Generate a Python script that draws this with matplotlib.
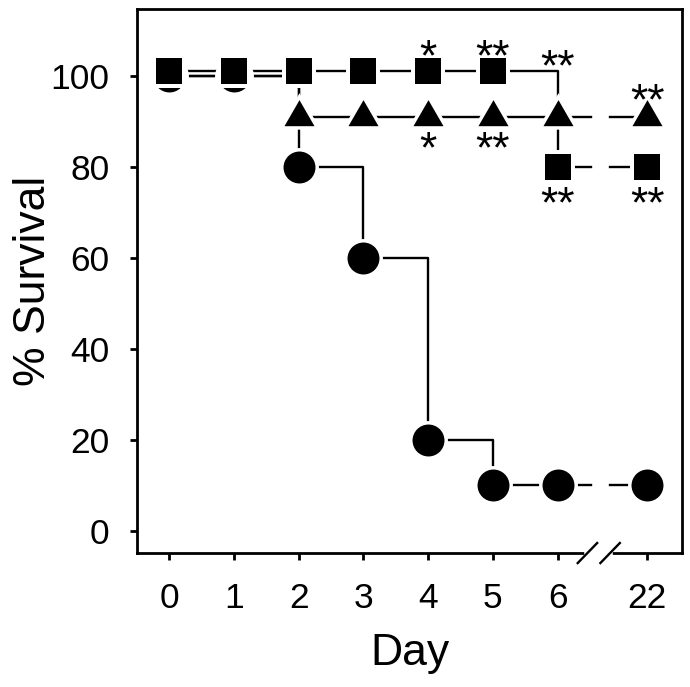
import numpy as np
from matplotlib import pyplot as plt
from matplotlib import transforms as mtransforms

plt.rcParams['font.family'] = ['Liberation Sans', 'DejaVu Sans']

# data
days = [0, 1, 2, 3, 4, 5, 6, 22]
day_pos = [0, 1, 2, 3, 4, 5, 6, 7.38]   # 22 sits after the axis break
circle_surv = [100, 100, 80, 60, 20, 10, 10, 10]
triangle_surv = [100, 100, 91, 91, 91, 91, 91, 91]
square_surv = [101, 101, 101, 101, 101, 101, 80, 80]

# significance marks: (day position, survival level of the mark centre, text)
star_x = [4, 5, 6, 7.38, 4, 5, 6, 7.38]
star_y = [106.8, 106.8, 104.6, 97.1, 86.4, 86.4, 74.3, 74.3]
star_txt = ['*', '**', '**', '**', '*', '**', '**', '**']

fig = plt.figure(figsize=(6.9, 6.87), dpi=100)
ax = fig.add_axes([0.1986, 0.195, 0.7898, 0.792])

# triangle marker centred on its centroid
tri = [(0, 17.33), (-15, -8.67), (15, -8.67)]

series = [
    (triangle_surv, tri, 25.0, 35.0),
    (circle_surv, 'o', 23.0, 28.0),
    (square_surv, 's', 19.2, 24.2),
]

lw = 1.7
for surv, m, ms, halo in series:
    # step line up to day 6
    ax.plot(day_pos[:7], surv[:7], drawstyle='steps-post', color='black', lw=lw, zorder=2)
    # broken piece across the axis break
    ax.plot([day_pos[6], 6.52], [surv[6], surv[6]], color='black', lw=lw, zorder=2)
    ax.plot([6.81, day_pos[7]], [surv[7], surv[7]], color='black', lw=lw, zorder=2)

z = 3
for surv, m, ms, halo in series:
    ax.plot(day_pos, surv, linestyle='none', marker=m, markersize=halo,
            color='white', markeredgewidth=0, zorder=z)
    ax.plot(day_pos, surv, linestyle='none', marker=m, markersize=ms,
            color='black', markeredgewidth=0, zorder=z + 1)
    z += 2

for x, y, t in zip(star_x, star_y, star_txt):
    ax.annotate(t, (x, y), xytext=(0, -18), textcoords='offset points',
                ha='center', va='baseline', fontsize=32, zorder=20)

ax.set_xlim(-0.494, 7.92)
ax.set_ylim(-4.84, 114.7)
ax.set_xticks(day_pos)
ax.set_xticklabels([str(d) for d in days])
ax.set_yticks([0, 20, 40, 60, 80, 100])

for s in ax.spines.values():
    s.set_linewidth(2)
ax.tick_params(direction='out', length=5, width=2, labelsize=25.5)
ax.tick_params(axis='x', pad=16)
ax.tick_params(axis='y', pad=15)

ax.set_xlabel('Day', fontsize=32, labelpad=13)
ax.set_ylabel('% Survival', fontsize=32, labelpad=-3)

# axis break on the x axis
trans = mtransforms.blended_transform_factory(ax.transData, ax.transAxes)
ax.plot([6.46, 6.81], [0, 0], color='white', lw=4, transform=trans, clip_on=False, zorder=30)
for bx in [6.46, 6.81]:
    ax.plot([bx - 0.15, bx + 0.15], [-0.0184, 0.0184], color='black', lw=1.7,
            transform=trans, clip_on=False, zorder=31)

plt.savefig('out.png', dpi=100)
